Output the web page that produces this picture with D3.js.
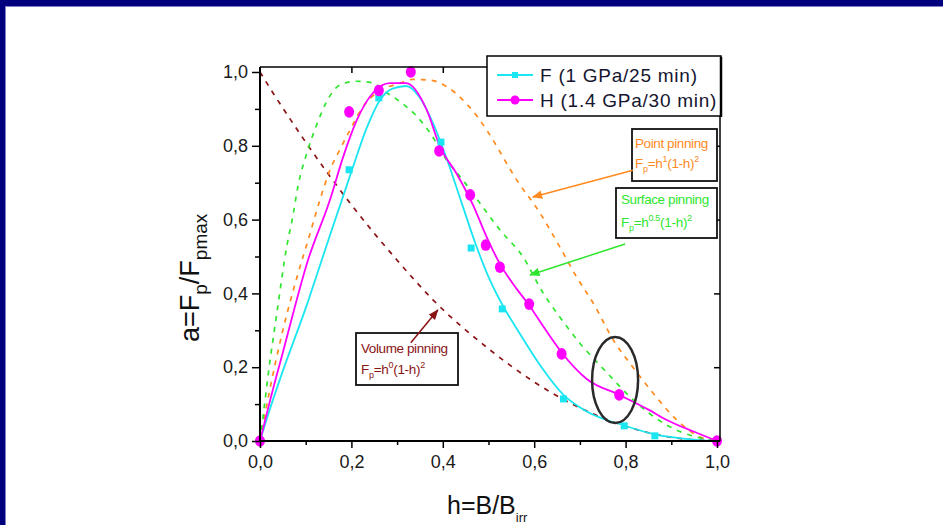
<!DOCTYPE html>
<html>
<head>
<meta charset="utf-8">
<script src="https://cdn.jsdelivr.net/npm/d3@7"></script>
<style>
  html, body { margin: 0; padding: 0; background: #fff; }
  svg { display: block; font-family: Arial, "Liberation Sans", sans-serif; }
</style>
</head>
<body>
<svg id="chart" width="943" height="525"></svg>
<script>
// ---- measured points: sample F (1 GPa / 25 min) ----
const fPointH = [0, 0.195, 0.26, 0.396, 0.462, 0.53, 0.664, 0.797, 0.864, 1.0];
const fPointA = [0, 0.735, 0.93, 0.81, 0.523, 0.358, 0.114, 0.041, 0.014, 0];
// fitted curve through sample F
const fFitH = [0, 0.02, 0.05, 0.1, 0.135, 0.2, 0.234, 0.263, 0.29, 0.32, 0.35, 0.379, 0.41, 0.44, 0.47, 0.5, 0.53, 0.569, 0.613, 0.664, 0.715, 0.797, 0.864, 0.93, 1.0];
const fFitA = [0, 0.08, 0.19, 0.36, 0.49, 0.73, 0.85, 0.925, 0.955, 0.962, 0.93, 0.86, 0.76, 0.65, 0.54, 0.445, 0.37, 0.29, 0.205, 0.125, 0.08, 0.042, 0.018, 0.006, 0];

// ---- measured points: sample H (1.4 GPa / 30 min) ----
const hPointH = [0, 0.195, 0.26, 0.33, 0.392, 0.46, 0.494, 0.525, 0.589, 0.66, 0.786, 1.0];
const hPointA = [0, 0.892, 0.95, 1.0, 0.786, 0.667, 0.531, 0.471, 0.371, 0.236, 0.125, 0];
// fitted curve through sample H
const hFitH = [0, 0.02, 0.05, 0.105, 0.153, 0.182, 0.212, 0.247, 0.284, 0.32, 0.365, 0.394, 0.43, 0.466, 0.497, 0.525, 0.56, 0.589, 0.62, 0.66, 0.715, 0.786, 0.85, 0.89, 0.95, 1.0];
const hFitA = [0, 0.1, 0.24, 0.49, 0.653, 0.77, 0.87, 0.943, 0.97, 0.97, 0.897, 0.797, 0.725, 0.64, 0.55, 0.48, 0.415, 0.368, 0.31, 0.24, 0.168, 0.125, 0.085, 0.057, 0.025, 0];

// ---- pinning model curves ----
const pointH = [0, 0.02, 0.05, 0.08, 0.109, 0.131, 0.153, 0.175, 0.197, 0.225, 0.263, 0.3, 0.335, 0.372, 0.409, 0.444, 0.475, 0.499, 0.562, 0.613, 0.656, 0.693, 0.729, 0.773, 0.816, 0.86, 0.912, 0.963, 1.0];
const pointA = [0, 0.13, 0.3, 0.44, 0.56, 0.653, 0.734, 0.79, 0.843, 0.905, 0.95, 0.967, 0.98, 0.978, 0.96, 0.924, 0.88, 0.837, 0.707, 0.617, 0.526, 0.444, 0.374, 0.274, 0.2, 0.13, 0.057, 0.011, 0];

const surfH = [0, 0.01, 0.02, 0.035, 0.059, 0.072, 0.083, 0.105, 0.125, 0.146, 0.175, 0.21, 0.248, 0.27, 0.306, 0.343, 0.372, 0.409, 0.444, 0.481, 0.525, 0.575, 0.62, 0.656, 0.7, 0.76, 0.817, 0.882, 0.963, 1.0];
const surfA = [0, 0.1, 0.2, 0.33, 0.53, 0.61, 0.69, 0.79, 0.86, 0.92, 0.965, 0.975, 0.97, 0.95, 0.92, 0.88, 0.835, 0.76, 0.707, 0.645, 0.572, 0.5, 0.4, 0.336, 0.265, 0.184, 0.111, 0.049, 0.008, 0];

const volH = [0, 0.025, 0.07, 0.1, 0.2, 0.3, 0.379, 0.5, 0.6, 0.635, 0.7, 0.8, 0.9, 1.0];
const volA = [1, 0.95, 0.865, 0.81, 0.64, 0.49, 0.382, 0.25, 0.16, 0.133, 0.09, 0.04, 0.01, 0];

// ---- axis ticks ----
const majorTicks = [0, 0.2, 0.4, 0.6, 0.8, 1.0];
const minorTicks = [0.1, 0.3, 0.5, 0.7, 0.9];
const tickLabels = ["0,0", "0,2", "0,4", "0,6", "0,8", "1,0"];

const legendNames = ["F (1 GPa/25 min)", "H (1.4 GPa/30 min)"];

const zip = (hs, as) => hs.map((h, i) => ({h, a: as[i]}));

const svg = d3.select("#chart");
svg.append("rect").attr("width", 943).attr("height", 525).attr("fill", "#fff");

// slide frame
svg.append("rect").attr("x", 0).attr("y", 0).attr("width", 943).attr("height", 6).attr("fill", "#00007e");
svg.append("rect").attr("x", 0).attr("y", 0).attr("width", 5).attr("height", 525).attr("fill", "#00007e");
svg.append("line").attr("x1", 5).attr("x2", 943).attr("y1", 6.5).attr("y2", 6.5).attr("stroke", "#7f7fc8").attr("stroke-width", 1);
svg.append("line").attr("x1", 5.5).attr("x2", 5.5).attr("y1", 6).attr("y2", 525).attr("stroke", "#7f7fc8").attr("stroke-width", 1);

const x = d3.scaleLinear().domain([0, 1]).range([260, 717]);
const y = d3.scaleLinear().domain([0, 1]).range([441, 72]);
const xMax = x.invert(720), yMax = y.invert(67);

const colors = {
  F: "#19e6f0", H: "#ff00ff",
  point: "#ff8a1e", surf: "#2ee62e", vol: "#8a1414"
};

// arrowheads for the annotation pointers
const defs = svg.append("defs");
[["arrPoint", colors.point], ["arrSurf", colors.surf], ["arrVol", colors.vol]].forEach(([id, c]) => {
  defs.append("marker").attr("id", id).attr("viewBox", "0 0 10 10")
    .attr("refX", 9).attr("refY", 5).attr("markerWidth", 7).attr("markerHeight", 7)
    .attr("orient", "auto")
    .append("path").attr("d", "M0,1 L10,5 L0,9 Z").attr("fill", c);
});

const line = d3.line().x(d => x(d.h)).y(d => y(d.a)).curve(d3.curveMonotoneX);

// model curves (dashed)
const dashed = [
  [zip(volH, volA), colors.vol],
  [zip(pointH, pointA), colors.point],
  [zip(surfH, surfA), colors.surf]
];
dashed.forEach(([data, c]) => {
  svg.append("path").datum(data).attr("d", line)
    .attr("fill", "none").attr("stroke", c).attr("stroke-width", 1.7)
    .attr("stroke-dasharray", "5,6");
});

// fitted curves
svg.append("path").datum(zip(fFitH, fFitA)).attr("d", line)
  .attr("fill", "none").attr("stroke", colors.F).attr("stroke-width", 1.8);
svg.append("path").datum(zip(hFitH, hFitA)).attr("d", line)
  .attr("fill", "none").attr("stroke", colors.H).attr("stroke-width", 1.8);

// measured points
svg.append("g").selectAll("rect").data(zip(fPointH, fPointA)).join("rect")
  .attr("x", d => x(d.h) - 3.5).attr("y", d => y(d.a) - 3.5)
  .attr("width", 7).attr("height", 7).attr("fill", colors.F);
svg.append("g").selectAll("ellipse").data(zip(hPointH, hPointA)).join("ellipse")
  .attr("cx", d => x(d.h)).attr("cy", d => y(d.a))
  .attr("rx", 5).attr("ry", 5.8).attr("fill", colors.H);

// plot frame
const frame = svg.append("g").attr("fill", "none").attr("stroke", "#000");
frame.append("line").attr("x1", x(0)).attr("x2", x(xMax)).attr("y1", y(0)).attr("y2", y(0)).attr("stroke-width", 2);
frame.append("line").attr("x1", x(0)).attr("x2", x(0)).attr("y1", y(0)).attr("y2", y(yMax)).attr("stroke-width", 2);
frame.append("line").attr("x1", x(0)).attr("x2", x(xMax)).attr("y1", y(yMax)).attr("y2", y(yMax)).attr("stroke-width", 1.5);
frame.append("line").attr("x1", x(xMax)).attr("x2", x(xMax)).attr("y1", y(0)).attr("y2", y(yMax)).attr("stroke-width", 1.5);

const fmt = d => tickLabels[majorTicks.indexOf(d)];
function styleAxis(g) {
  g.select(".domain").remove();
  g.selectAll(".tick line").attr("stroke", "#000").attr("stroke-width", 1.5);
  g.selectAll(".tick text").attr("fill", "#1a1a1a").attr("font-size", 18)
    .attr("font-family", "Arial, 'Liberation Sans', sans-serif");
}

// x axis (bottom), major and minor ticks
svg.append("g").attr("transform", `translate(0,${y(0)})`)
  .call(d3.axisBottom(x).tickValues(majorTicks).tickSize(7).tickPadding(7).tickFormat(fmt))
  .call(styleAxis);
svg.append("g").attr("transform", `translate(0,${y(0)})`)
  .call(d3.axisBottom(x).tickValues(minorTicks).tickSize(4).tickFormat(""))
  .call(styleAxis);
// y axis (left)
svg.append("g").attr("transform", `translate(${x(0)},0)`)
  .call(d3.axisLeft(y).tickValues(majorTicks).tickSize(8).tickPadding(4).tickFormat(fmt))
  .call(styleAxis);
svg.append("g").attr("transform", `translate(${x(0)},0)`)
  .call(d3.axisLeft(y).tickValues(minorTicks).tickSize(5).tickFormat(""))
  .call(styleAxis);
// inward ticks on top and right
svg.append("g").attr("transform", `translate(0,${y(yMax)})`)
  .call(d3.axisTop(x).tickValues(majorTicks.slice(1, 5)).tickSize(-6).tickFormat(""))
  .call(styleAxis);
svg.append("g").attr("transform", `translate(${x(xMax)},0)`)
  .call(d3.axisRight(y).tickValues(majorTicks.slice(1, 5)).tickSize(-6).tickFormat(""))
  .call(styleAxis);

// axis titles
const xt = svg.append("text").attr("x", 447).attr("y", 514).attr("font-size", 25).attr("fill", "#111");
xt.append("tspan").text("h=B/B");
xt.append("tspan").attr("font-size", 13).attr("dy", 8).text("irr");

const yt = svg.append("text").attr("transform", "translate(199,342) rotate(-90)")
  .attr("font-size", 27).attr("fill", "#111");
yt.append("tspan").text("a=F");
yt.append("tspan").attr("font-size", 19).attr("dy", 8).text("p");
yt.append("tspan").attr("dy", -8).text("/F");
yt.append("tspan").attr("font-size", 19).attr("dy", 8).text("pmax");

// legend
const lg = svg.append("g");
lg.append("rect").attr("x", 487).attr("y", 56).attr("width", 234).attr("height", 60)
  .attr("fill", "#fff").attr("stroke", "#000").attr("stroke-width", 1.5);
lg.append("line").attr("x1", 721).attr("x2", 721).attr("y1", 57).attr("y2", 117).attr("stroke", "#000").attr("stroke-width", 2.5);
const legendRows = [75, 100];
legendNames.forEach((name, i) => {
  const c = i === 0 ? colors.F : colors.H;
  const ly = legendRows[i];
  lg.append("line").attr("x1", 497).attr("x2", 533).attr("y1", ly).attr("y2", ly).attr("stroke", c).attr("stroke-width", 2);
  if (i === 0) {
    lg.append("rect").attr("x", 512).attr("y", ly - 3).attr("width", 6).attr("height", 6).attr("fill", c);
  } else {
    lg.append("circle").attr("cx", 515).attr("cy", ly).attr("r", 4.5).attr("fill", c);
  }
  lg.append("text").attr("x", 540).attr("y", ly + 7).attr("font-size", 19).attr("fill", "#151530")
    .attr("letter-spacing", 0.75).text(name);
});

// model annotations: box, label, formula and pointer
function formula(sel, exp1) {
  sel.append("tspan").text("F");
  sel.append("tspan").attr("font-size", 9).attr("dy", 4).text("p");
  sel.append("tspan").attr("dy", -4).text("=h");
  sel.append("tspan").attr("font-size", 9).attr("dy", -6).text(exp1);
  sel.append("tspan").attr("dy", 6).text("(1-h)");
  sel.append("tspan").attr("font-size", 9).attr("dy", -6).text("2");
}
const notes = [
  {box: [632, 129, 85, 52], tx: 635, ty: [148, 168], name: "Point pinning", exp: "1", c: colors.point,
   from: [0.816, 0.734], to: [0.597, 0.661], arr: "arrPoint"},
  {box: [616, 188, 101, 50], tx: 621, ty: [204, 227], name: "Surface pinning", exp: "0.5", c: colors.surf,
   from: [0.799, 0.534], to: [0.591, 0.45], arr: "arrSurf"},
  {box: [356, 333, 102, 52], tx: 361, ty: [353, 374], name: "Volume pinning", exp: "0", c: colors.vol,
   from: [0.33, 0.266], to: [0.389, 0.355], arr: "arrVol"}
];
notes.forEach(n => {
  svg.append("rect").attr("x", n.box[0]).attr("y", n.box[1]).attr("width", n.box[2]).attr("height", n.box[3])
    .attr("fill", "#fff").attr("stroke", "#111").attr("stroke-width", 1.8);
  svg.append("text").attr("x", n.tx).attr("y", n.ty[0]).attr("font-size", 13.5).attr("fill", n.c)
    .attr("letter-spacing", -0.4).text(n.name);
  svg.append("text").attr("x", n.tx).attr("y", n.ty[1]).attr("font-size", 13.5).attr("fill", n.c)
    .attr("letter-spacing", -0.3).call(formula, n.exp);
  svg.append("line").attr("x1", x(n.from[0])).attr("y1", y(n.from[1]))
    .attr("x2", x(n.to[0])).attr("y2", y(n.to[1]))
    .attr("stroke", n.c).attr("stroke-width", 1.5).attr("marker-end", `url(#${n.arr})`);
});

// highlighted region near h = 0.78
svg.append("ellipse").attr("cx", x(0.777)).attr("cy", y(0.165)).attr("rx", 23).attr("ry", 43)
  .attr("fill", "none").attr("stroke", "#2a2a2a").attr("stroke-width", 2.5);
</script>
</body>
</html>
